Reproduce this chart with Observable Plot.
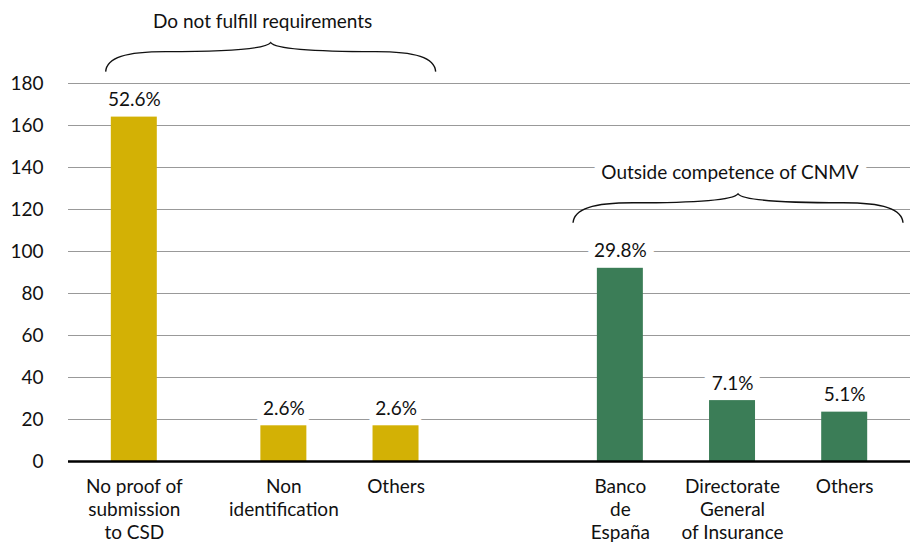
<!DOCTYPE html>
<html>
<head>
<meta charset="utf-8">
<script src="https://cdn.jsdelivr.net/npm/d3@7"></script>
<script src="https://cdn.jsdelivr.net/npm/@observablehq/plot@0.6"></script>
<style>
  html, body { margin: 0; padding: 0; background: white; }
  #chart svg { display: block; }
</style>
</head>
<body>
<div id="chart"></div>
<script>
// ---- data ----
const categories = [
  "No proof of\nsubmission\nto CSD",
  "Non\nidentification",
  "Others",
  "Banco\nde\nEspaña",
  "Directorate\nGeneral\nof Insurance",
  "Others"
];
const counts = [164, 17, 17, 92, 29, 23.5];
const shares = ["52.6%", "2.6%", "2.6%", "29.8%", "7.1%", "5.1%"];
const groupOf = [0, 0, 0, 1, 1, 1];
const groupNames = ["Do not fulfill requirements", "Outside competence of CNMV"];
const yTicks = [0, 20, 40, 60, 80, 100, 120, 140, 160, 180];

// ---- layout config ----
const gapBefore = [0, 3, 2, 5, 2, 2]; // empty band slots before each category
const colors = ["#D3B105", "#3B7D57"];
const FONT = "Lato, 'Open Sans', sans-serif";
const INK = "#111";

const data = categories.map((label, i) => ({
  key: "k" + i, label, count: counts[i], share: shares[i], group: groupOf[i]
}));

const domain = [];
let s = 0;
data.forEach((d, i) => {
  for (let j = 0; j < gapBefore[i]; j++) domain.push("_gap" + (s++));
  domain.push(d.key);
});

function braces(index, scales) {
  const {x, y} = scales;
  const bw = x.bandwidth ? x.bandwidth() : 0;
  const g = d3.create("svg:g");
  groupNames.forEach((name, gi) => {
    const items = data.filter(d => d.group === gi);
    const c0 = x(items[0].key) + bw / 2;
    const c1 = x(items[items.length - 1].key) + bw / 2;
    const mid = (c0 + c1) / 2;
    const cx = mid + 6;
    const w = 165;
    const top = y(d3.max(items, d => d.count));
    const yb = top - 45;
    const ys = yb - 20;
    const yc = yb - 29;
    const L = cx - w, R = cx + w;
    const path =
      `M${L},${yb} C${L + 1},${yb - 14} ${L + 20},${ys} ${L + 60},${ys} ` +
      `C${cx - 70},${ys} ${cx - 6},${ys - 1} ${cx},${yc} ` +
      `C${cx + 6},${ys - 1} ${cx + 70},${ys} ${R - 60},${ys} ` +
      `C${R - 20},${ys} ${R - 1},${yb - 14} ${R},${yb}`;
    g.append("path").attr("d", path).attr("fill", "none")
      .attr("stroke", "#111").attr("stroke-width", 1.4);
    g.append("text").attr("x", mid - 2).attr("y", yb - 50)
      .attr("text-anchor", "middle").attr("dy", "0.35em")
      .attr("font-family", FONT).attr("font-size", 19).attr("fill", INK)
      .attr("stroke", "white").attr("stroke-width", 16).attr("paint-order", "stroke")
      .attr("stroke-linejoin", "round")
      .text(name);
  });
  return g.node();
}

const chart = Plot.plot({
  width: 910,
  height: 543,
  marginTop: 83,
  marginBottom: 82,
  marginLeft: 68,
  marginRight: 0,
  style: {fontFamily: FONT, fontSize: "19px", color: INK, background: "white"},
  x: {domain, paddingInner: 0, paddingOuter: 1.26, align: 0.5, round: false, axis: null},
  y: {domain: [0, 180], axis: null},
  marks: [
    Plot.ruleY(yTicks.filter(t => t > 0), {stroke: "#999", strokeWidth: 1}),
    Plot.text(yTicks, {
      y: d => d, text: d => String(d), frameAnchor: "left", dx: -25,
      textAnchor: "end", fill: INK, fontSize: 19
    }),
    Plot.barY(data, {
      x: "key", y: "count", fill: d => colors[d.group],
      insetLeft: -4.3, insetRight: -4.3
    }),
    Plot.ruleY([0], {stroke: "#000", strokeWidth: 2.5}),
    Plot.text(data, {
      x: "key", y: "count", text: "share", dy: -17, fill: INK, fontSize: 19,
      stroke: "white", strokeWidth: 16, paintOrder: "stroke", strokeLinejoin: "round"
    }),
    Plot.text(data, {
      x: "key", text: "label", frameAnchor: "bottom", lineAnchor: "top",
      dy: 15, lineHeight: 1.21, fill: INK, fontSize: 19
    }),
    braces
  ]
});

document.getElementById("chart").appendChild(chart);
</script>
</body>
</html>
